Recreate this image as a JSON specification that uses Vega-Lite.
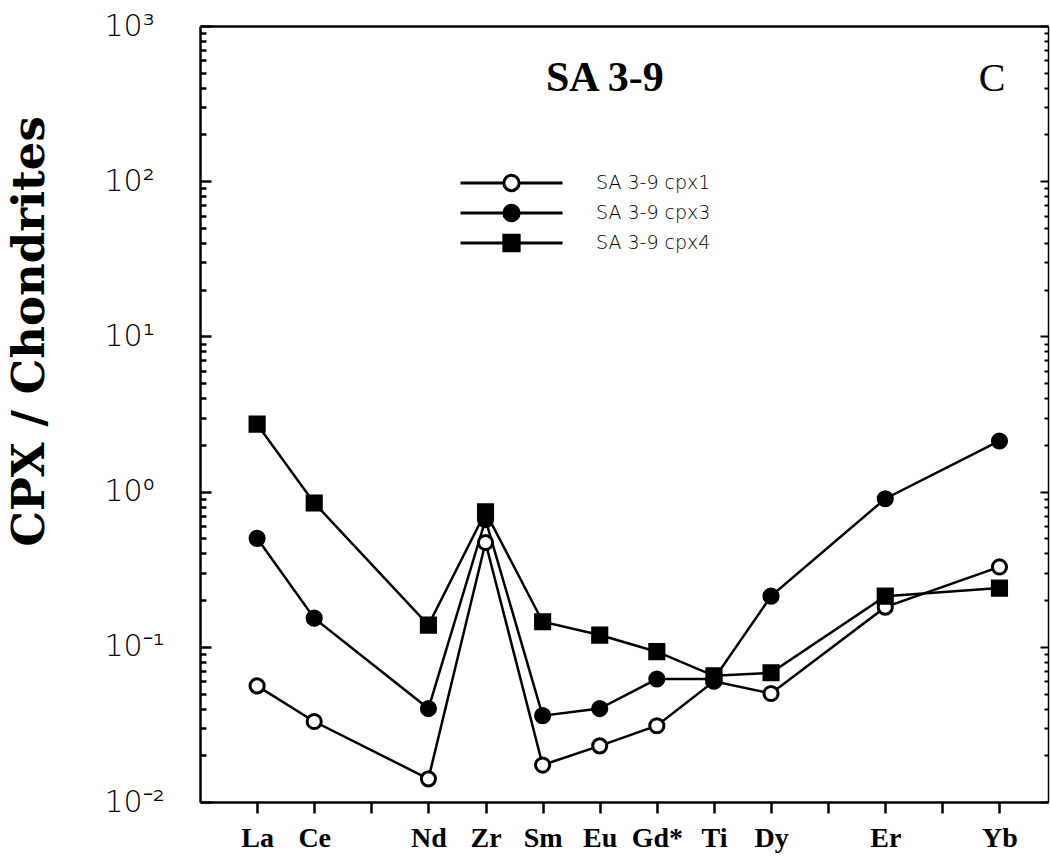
{
  "$schema": "https://vega.github.io/schema/vega-lite/v6.json",
  "autosize": "none",
  "width": 848,
  "height": 776,
  "padding": {"left": 200, "top": 26, "right": 2, "bottom": 57},
  "background": "white",
  "config": {"view": {"stroke": null}},
  "resolve": {"axis": {"x": "independent", "y": "independent"}, "scale": {"shape": "independent", "fill": "independent"}},
  "datasets": {
    "cpx": [
      {"series": "SA 3-9 cpx1", "element": "La", "pos": 1, "value": 0.056},
      {"series": "SA 3-9 cpx1", "element": "Ce", "pos": 2, "value": 0.033},
      {"series": "SA 3-9 cpx1", "element": "Nd", "pos": 4, "value": 0.0141},
      {"series": "SA 3-9 cpx1", "element": "Zr", "pos": 5, "value": 0.47},
      {"series": "SA 3-9 cpx1", "element": "Sm", "pos": 6, "value": 0.0173},
      {"series": "SA 3-9 cpx1", "element": "Eu", "pos": 7, "value": 0.023},
      {"series": "SA 3-9 cpx1", "element": "Gd*", "pos": 8, "value": 0.031},
      {"series": "SA 3-9 cpx1", "element": "Ti", "pos": 9, "value": 0.060},
      {"series": "SA 3-9 cpx1", "element": "Dy", "pos": 10, "value": 0.050},
      {"series": "SA 3-9 cpx1", "element": "Er", "pos": 12, "value": 0.18},
      {"series": "SA 3-9 cpx1", "element": "Yb", "pos": 14, "value": 0.327},
      {"series": "SA 3-9 cpx3", "element": "La", "pos": 1, "value": 0.50},
      {"series": "SA 3-9 cpx3", "element": "Ce", "pos": 2, "value": 0.153},
      {"series": "SA 3-9 cpx3", "element": "Nd", "pos": 4, "value": 0.040},
      {"series": "SA 3-9 cpx3", "element": "Zr", "pos": 5, "value": 0.66},
      {"series": "SA 3-9 cpx3", "element": "Sm", "pos": 6, "value": 0.036},
      {"series": "SA 3-9 cpx3", "element": "Eu", "pos": 7, "value": 0.040},
      {"series": "SA 3-9 cpx3", "element": "Gd*", "pos": 8, "value": 0.062},
      {"series": "SA 3-9 cpx3", "element": "Ti", "pos": 9, "value": 0.062},
      {"series": "SA 3-9 cpx3", "element": "Dy", "pos": 10, "value": 0.212},
      {"series": "SA 3-9 cpx3", "element": "Er", "pos": 12, "value": 0.90},
      {"series": "SA 3-9 cpx3", "element": "Yb", "pos": 14, "value": 2.12},
      {"series": "SA 3-9 cpx4", "element": "La", "pos": 1, "value": 2.72},
      {"series": "SA 3-9 cpx4", "element": "Ce", "pos": 2, "value": 0.845},
      {"series": "SA 3-9 cpx4", "element": "Nd", "pos": 4, "value": 0.138},
      {"series": "SA 3-9 cpx4", "element": "Zr", "pos": 5, "value": 0.74},
      {"series": "SA 3-9 cpx4", "element": "Sm", "pos": 6, "value": 0.145},
      {"series": "SA 3-9 cpx4", "element": "Eu", "pos": 7, "value": 0.119},
      {"series": "SA 3-9 cpx4", "element": "Gd*", "pos": 8, "value": 0.093},
      {"series": "SA 3-9 cpx4", "element": "Ti", "pos": 9, "value": 0.065},
      {"series": "SA 3-9 cpx4", "element": "Dy", "pos": 10, "value": 0.068},
      {"series": "SA 3-9 cpx4", "element": "Er", "pos": 12, "value": 0.212},
      {"series": "SA 3-9 cpx4", "element": "Yb", "pos": 14, "value": 0.239}
    ]
  },
  "layer": [
    {
      "data": {"name": "cpx"},
      "mark": {"type": "line", "color": "black", "strokeWidth": 2.5},
      "encoding": {
        "x": {"field": "pos", "type": "quantitative",
          "scale": {"domain": [0, 14.85], "nice": false, "zero": false},
          "axis": {"orient": "bottom", "values": [1,2,3,4,5,6,7,8,9,10,11,12,13,14],
            "labelExpr": "['','La','Ce','','Nd','Zr','Sm','Eu','Gd*','Ti','Dy','','Er','','Yb'][datum.value]",
            "domain": true, "domainColor": "black", "domainWidth": 2.5,
            "ticks": true, "tickColor": "black", "tickSize": 11, "tickWidth": 2.5,
            "labelFont": "Liberation Serif", "labelFontWeight": "bold", "labelFontSize": 28, "labelColor": "black",
            "labelPadding": 11, "labelFlush": false, "labelOverlap": false, "grid": false, "title": null}},
        "y": {"field": "value", "type": "quantitative",
          "scale": {"type": "log", "domain": [0.01, 1000], "nice": false},
          "axis": {"orient": "left", "values": [0.01, 0.1, 1, 10, 100, 1000],
            "labelExpr": "datum.value >= 999 ? '10³' : datum.value >= 99 ? '10²' : datum.value >= 9 ? '10¹' : datum.value >= 0.9 ? '10⁰' : datum.value >= 0.09 ? '10⁻¹' : '10⁻²'",
            "domain": true, "domainColor": "black", "domainWidth": 2.5,
            "ticks": true, "tickColor": "black", "tickSize": -11, "tickWidth": 2.5,
            "labelFont": "DejaVu Sans", "labelFontWeight": 300, "labelFontSize": 30, "labelColor": "black",
            "labelAlign": "left", "labelBaseline": "middle", "labelPadding": 107, "labelFlush": false, "labelOverlap": false,
            "grid": false,
            "title": "CPX / Chondrites", "titleFont": "DejaVu Serif", "titleFontWeight": "bold", "titleFontSize": 45,
            "titleColor": "black", "titleAngle": 270, "titleAlign": "center", "titleBaseline": "alphabetic",
            "titleX": -157, "titleY": 305}},
        "detail": {"field": "series"}
      }
    },
    {
      "data": {"name": "cpx"},
      "mark": {"type": "point", "filled": true, "stroke": "black", "strokeWidth": 3, "size": 200, "opacity": 1},
      "encoding": {
        "x": {"field": "pos", "type": "quantitative", "axis": null},
        "y": {"field": "value", "type": "quantitative",
          "axis": {"orient": "left",
            "values": [0.02,0.03,0.04,0.05,0.06,0.07,0.08,0.09,0.2,0.3,0.4,0.5,0.6,0.7,0.8,0.9,2,3,4,5,6,7,8,9,20,30,40,50,60,70,80,90,200,300,400,500,600,700,800,900],
            "labels": false, "domain": false, "ticks": true, "tickColor": "black", "tickSize": -6, "tickWidth": 2.5,
            "grid": false, "title": null}},
        "shape": {"field": "series", "type": "nominal",
          "scale": {"domain": ["SA 3-9 cpx1", "SA 3-9 cpx3", "SA 3-9 cpx4"], "range": ["circle", "circle", "square"]},
          "legend": null},
        "fill": {"field": "series", "type": "nominal",
          "scale": {"domain": ["SA 3-9 cpx1", "SA 3-9 cpx3", "SA 3-9 cpx4"], "range": ["white", "black", "black"]},
          "legend": null}
      }
    },
    {
      "data": {"name": "cpx"},
      "transform": [{"filter": "false"}],
      "mark": {"type": "point", "filled": false, "stroke": "black", "color": "black", "strokeWidth": 3},
      "encoding": {
        "x": {"field": "pos", "type": "quantitative", "axis": null},
        "y": {"field": "value", "type": "quantitative", "axis": null},
        "shape": {"field": "series", "type": "nominal",
          "scale": {"domain": ["SA 3-9 cpx1", "SA 3-9 cpx3", "SA 3-9 cpx4"],
            "range": ["M-1,0H-0.15M0.15,0H1M0.15,0A0.15,0.15,0,1,1,-0.15,0A0.15,0.15,0,1,1,0.15,0Z",
                      "M-1,0H-0.15M0.15,0H1M0.15,0A0.15,0.15,0,1,1,-0.15,0A0.15,0.15,0,1,1,0.15,0Z",
                      "M-1,0H-0.15M-0.15,-0.15H0.15V0.15H-0.15ZM0.15,0H1"]},
          "legend": {"orient": "none", "legendX": 259, "legendY": 143, "title": null, "padding": 0,
            "clipHeight": 28, "rowPadding": 2, "labelOffset": 32,
            "symbolSize": 10404, "symbolStrokeWidth": 3, "symbolOpacity": 1,
            "labelFont": "DejaVu Sans", "labelFontWeight": 300, "labelFontSize": 19, "labelColor": "black"}},
        "fill": {"field": "series", "type": "nominal",
          "scale": {"domain": ["SA 3-9 cpx1", "SA 3-9 cpx3", "SA 3-9 cpx4"], "range": ["white", "black", "black"]},
          "legend": {"orient": "none", "legendX": 259, "legendY": 143, "title": null, "padding": 0,
            "clipHeight": 28, "rowPadding": 2, "labelOffset": 32,
            "symbolSize": 10404, "symbolStrokeWidth": 3, "symbolOpacity": 1,
            "labelFont": "DejaVu Sans", "labelFontWeight": 300, "labelFontSize": 19, "labelColor": "black"}}
      }
    },
    {
      "data": {"values": [{"label": "SA 3-9", "pos": 7.09, "value": 381}]},
      "mark": {"type": "text", "font": "Liberation Serif", "fontWeight": "bold", "fontSize": 42, "color": "black", "align": "center", "baseline": "alphabetic"},
      "encoding": {
        "x": {"field": "pos", "type": "quantitative",
          "axis": {"orient": "top", "domain": true, "domainColor": "black", "domainWidth": 2.5, "ticks": false, "labels": false, "grid": false, "title": null}},
        "y": {"field": "value", "type": "quantitative",
          "axis": {"orient": "right", "values": [0.01, 0.1, 1, 10, 100, 1000], "labels": false,
            "domain": true, "domainColor": "black", "domainWidth": 1.5,
            "ticks": true, "tickColor": "black", "tickSize": -8, "tickWidth": 2, "grid": false, "title": null}},
        "text": {"field": "label"}
      }
    },
    {
      "data": {"values": [{"label": "C", "pos": 13.87, "value": 381}]},
      "mark": {"type": "text", "font": "Liberation Serif", "fontWeight": "normal", "fontSize": 40, "color": "black", "align": "center", "baseline": "alphabetic"},
      "encoding": {
        "x": {"field": "pos", "type": "quantitative", "axis": null},
        "y": {"field": "value", "type": "quantitative",
          "axis": {"orient": "right",
            "values": [0.02,0.03,0.04,0.05,0.06,0.07,0.08,0.09,0.2,0.3,0.4,0.5,0.6,0.7,0.8,0.9,2,3,4,5,6,7,8,9,20,30,40,50,60,70,80,90,200,300,400,500,600,700,800,900],
            "labels": false, "domain": false, "ticks": true, "tickColor": "black", "tickSize": -4, "tickWidth": 2,
            "grid": false, "title": null}},
        "text": {"field": "label"}
      }
    }
  ]
}
